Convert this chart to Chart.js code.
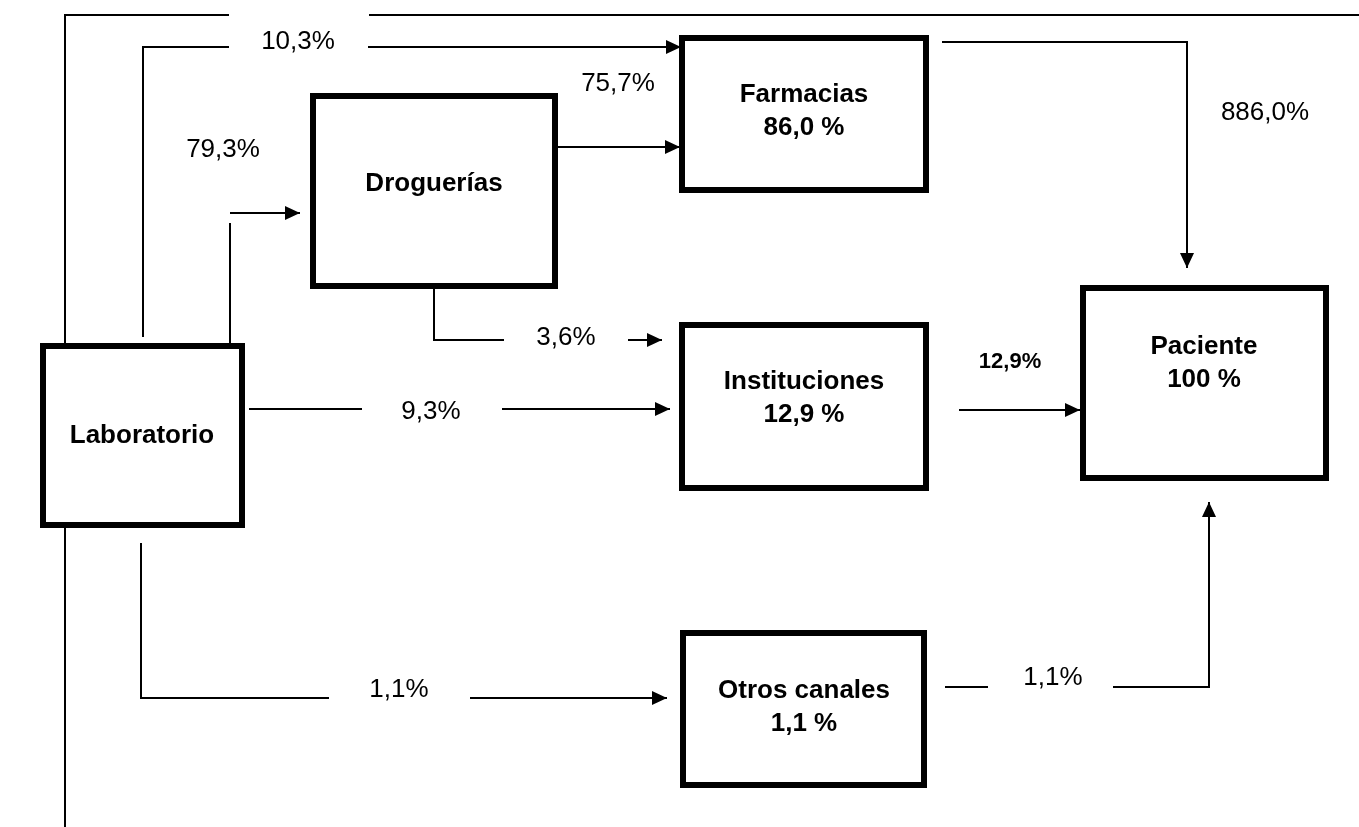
<!DOCTYPE html>
<html lang="es">
<head>
<meta charset="utf-8">
<title>Canales de distribución</title>
<script src="https://cdn.jsdelivr.net/npm/chart.js@4.4.1/dist/chart.umd.min.js"></script>
<style>
    html, body { margin: 0; padding: 0; background: #fff; }
    #contenedor { position: relative; width: 1359px; height: 827px; }
</style>
</head>
<body>
<div id="contenedor"><canvas id="myChart"></canvas></div>
<script>
// Datos del diagrama: nodos, participación y porcentajes de cada flujo
const nodos = ['Laboratorio', 'Droguerías', 'Farmacias', 'Instituciones', 'Otros canales', 'Paciente'];
const participacion = [null, null, '86,0 %', '12,9 %', '1,1 %', '100 %'];
const flujos = ['10,3%', '79,3%', '75,7%', '3,6%', '9,3%', '1,1%', '886,0%', '12,9%', '1,1%'];

// Disposición (en unidades de las escalas x: 0-1359, y: 0-827 invertida)
const cajas = [
    [43, 346, 242, 525],
    [313, 96, 555, 286],
    [682, 38, 926, 190],
    [682, 325, 926, 488],
    [683, 633, 924, 785],
    [1083, 288, 1326, 478]
];
const centrosTexto = [
    [142, 436], [434, 184], [804, 111], [804, 398], [804, 707], [1204, 363]
];
const posFlujos = [
    [298, 42], [223, 150], [618, 84], [566, 338], [431, 412],
    [399, 690], [1265, 113], [1010, 362], [1053, 678]
];
// Trazos: cada uno es una polilínea; "flecha" indica punta en el último punto
const trazos = [
    { p: [[65, 827], [65, 15], [229, 15]] },
    { p: [[369, 15], [1359, 15]] },
    { p: [[143, 337], [143, 47], [229, 47]] },
    { p: [[368, 47], [681, 47]], flecha: true },
    { p: [[230, 343], [230, 223]] },
    { p: [[230, 213], [300, 213]], flecha: true },
    { p: [[558, 147], [680, 147]], flecha: true },
    { p: [[434, 289], [434, 340], [504, 340]] },
    { p: [[628, 340], [662, 340]], flecha: true },
    { p: [[249, 409], [362, 409]] },
    { p: [[502, 409], [670, 409]], flecha: true },
    { p: [[141, 543], [141, 698], [329, 698]] },
    { p: [[470, 698], [667, 698]], flecha: true },
    { p: [[942, 42], [1187, 42], [1187, 268]], flecha: true },
    { p: [[959, 410], [1080, 410]], flecha: true },
    { p: [[945, 687], [988, 687]] },
    { p: [[1113, 687], [1209, 687], [1209, 502]], flecha: true }
];

const FUENTE = '"Liberation Sans", Arial, Helvetica, sans-serif';

function aPuntos(lista) {
    return lista.map(([x, y]) => ({ x: x, y: y }));
}

// Datasets de las cajas (rectángulos cerrados con relleno blanco, borde grueso)
const datasetsCajas = cajas.map(([x0, y0, x1, y1], i) => ({
    label: nodos[i],
    data: aPuntos([[x0, y0], [x1, y0], [x1, y1], [x0, y1], [x0, y0]]),
    showLine: true,
    fill: 'shape',
    backgroundColor: '#fff',
    borderColor: '#000',
    borderWidth: 6,
    borderJoinStyle: 'miter',
    borderCapStyle: 'square',
    pointRadius: 0,
    tension: 0
}));

// Datasets de las líneas de flujo
const datasetsTrazos = trazos.map((t, i) => ({
    label: 'trazo' + i,
    data: aPuntos(t.p),
    flecha: !!t.flecha,
    showLine: true,
    fill: false,
    borderColor: '#000',
    borderWidth: 2,
    borderCapStyle: 'butt',
    borderJoinStyle: 'miter',
    pointRadius: 0,
    tension: 0
}));

// Plugin: puntas de flecha en el último punto del trazo
const pluginFlechas = {
    id: 'flechas',
    afterDatasetsDraw(chart) {
        const ctx = chart.ctx;
        chart.data.datasets.forEach((ds, i) => {
            if (!ds.flecha) return;
            const pts = chart.getDatasetMeta(i).data;
            const fin = pts[pts.length - 1];
            const prev = pts[pts.length - 2];
            const ang = Math.atan2(fin.y - prev.y, fin.x - prev.x);
            const largo = 15, ancho = 7;
            ctx.save();
            ctx.translate(fin.x, fin.y);
            ctx.rotate(ang);
            ctx.beginPath();
            ctx.moveTo(0, 0);
            ctx.lineTo(-largo, -ancho);
            ctx.lineTo(-largo, ancho);
            ctx.closePath();
            ctx.fillStyle = '#000';
            ctx.fill();
            ctx.restore();
        });
    }
};

// Plugin: textos de los nodos y porcentajes
const pluginRotulos = {
    id: 'rotulos',
    afterDatasetsDraw(chart) {
        const ctx = chart.ctx;
        const sx = chart.scales.x, sy = chart.scales.y;
        ctx.save();
        ctx.fillStyle = '#000';
        ctx.textAlign = 'center';
        ctx.textBaseline = 'middle';

        // Nombres de nodos (negrita)
        ctx.font = 'bold 26px ' + FUENTE;
        nodos.forEach((nombre, i) => {
            const cx = sx.getPixelForValue(centrosTexto[i][0]);
            const cy = sy.getPixelForValue(centrosTexto[i][1]);
            if (participacion[i]) {
                ctx.fillText(nombre, cx, cy - 16);
                ctx.fillText(participacion[i], cx, cy + 17);
            } else {
                ctx.fillText(nombre, cx, cy);
            }
        });

        // Porcentajes de flujo
        flujos.forEach((txt, i) => {
            ctx.font = (i === 7 ? 'bold 22px ' : '26px ') + FUENTE;
            ctx.fillText(txt, sx.getPixelForValue(posFlujos[i][0]), sy.getPixelForValue(posFlujos[i][1]));
        });
        ctx.restore();
    }
};

const ctx = document.getElementById('myChart').getContext('2d');
new Chart(ctx, {
    type: 'scatter',
    data: { datasets: datasetsCajas.concat(datasetsTrazos) },
    options: {
        responsive: true,
        maintainAspectRatio: false,
        animation: false,
        layout: { padding: 0 },
        plugins: {
            legend: { display: false },
            tooltip: { enabled: false }
        },
        scales: {
            x: { type: 'linear', min: 0, max: 1359, display: false },
            y: { type: 'linear', min: 0, max: 827, reverse: true, display: false }
        },
        datasets: { scatter: { clip: false } }
    },
    plugins: [pluginFlechas, pluginRotulos]
});
</script>
</body>
</html>
